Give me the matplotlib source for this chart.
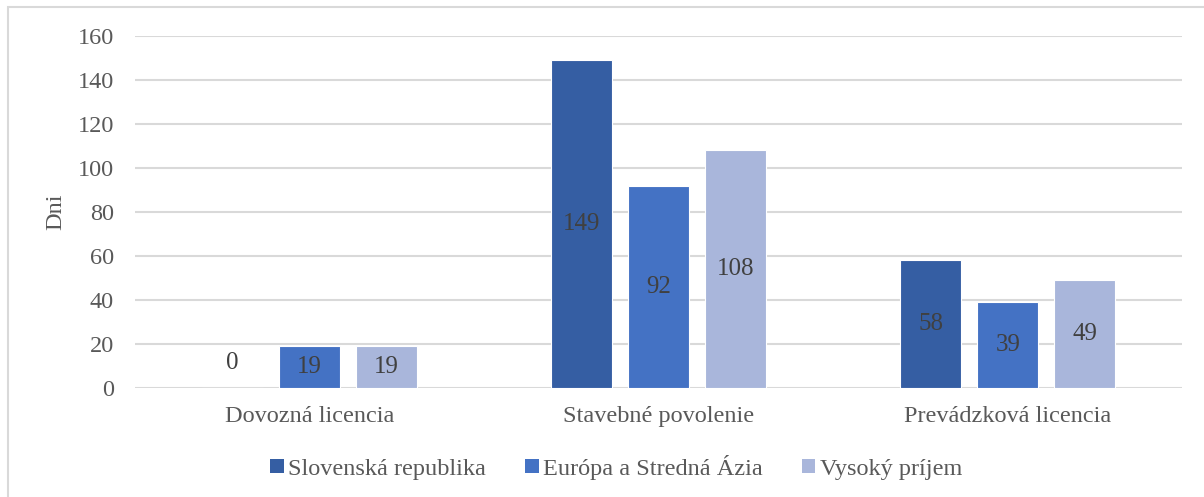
import matplotlib.pyplot as plt
import numpy as np
from matplotlib.patches import Rectangle, Patch

kategorie = ["Dovozná licencia", "Stavebné povolenie", "Prevádzková licencia"]
serie = ["Slovenská republika", "Európa a Stredná Ázia", "Vysoký príjem"]
slovensko = [0, 149, 58]
europa = [19, 92, 39]
vysoky = [19, 108, 49]
farby = ["#355EA3", "#4472C4", "#A9B6DB"]

plt.rcParams['font.family'] = ['Liberation Serif', 'DejaVu Serif']

fig = plt.figure(figsize=(12.04, 4.97), dpi=100)
ax = fig.add_axes([0.112, 0.2193, 0.870, 0.7083])

x = np.arange(len(kategorie))
sirka = 0.175
posun = 0.22
for i, (hodnoty, farba) in enumerate(zip([slovensko, europa, vysoky], farby)):
    pos = x + (i - 1) * posun
    ax.bar(pos, hodnoty, sirka, color=farba, edgecolor="white", linewidth=0.8, zorder=3)
    for px, v in zip(pos, hodnoty):
        if v > 0:
            ax.text(px, v / 2, str(v), ha="center", va="center", fontsize=18, color="#404040", zorder=4)
        else:
            ax.annotate(str(v), (px, 0), xytext=(0, 18), textcoords="offset points",
                        ha="center", va="center", fontsize=18, color="#404040")

ax.set_ylim(0, 160)
ax.set_xlim(-0.5, 2.5)
ax.set_yticks(range(0, 161, 20))
ax.set_xticks(x)
ax.set_xticklabels(kategorie)
ax.tick_params(axis="both", length=0, labelsize=17.5, labelcolor="#595959")
ax.tick_params(axis="x", pad=13)
ax.tick_params(axis="y", pad=15)
ax.grid(axis="y", color="#D9D9D9", linewidth=1.5, zorder=0)
for s in ax.spines.values():
    s.set_visible(False)
ax.set_ylabel("Dni", fontsize=17.5, color="#595959", labelpad=8)

handles = [Patch(facecolor=f, edgecolor="none") for f in farby]
fig.legend(handles, serie, loc="center", bbox_to_anchor=(0.512, 0.06), ncol=3,
           frameon=False, fontsize=17.5, handlelength=0.55, handleheight=0.55,
           handletextpad=0.2, columnspacing=1.6, labelcolor="#595959")

fig.patches.append(Rectangle((8 / 1204, -0.05), 1.1, 1 - 7 / 497 + 0.05, transform=fig.transFigure,
                             fill=False, edgecolor="#D9D9D9", linewidth=1.5))

fig.savefig("out.png", dpi=100)
